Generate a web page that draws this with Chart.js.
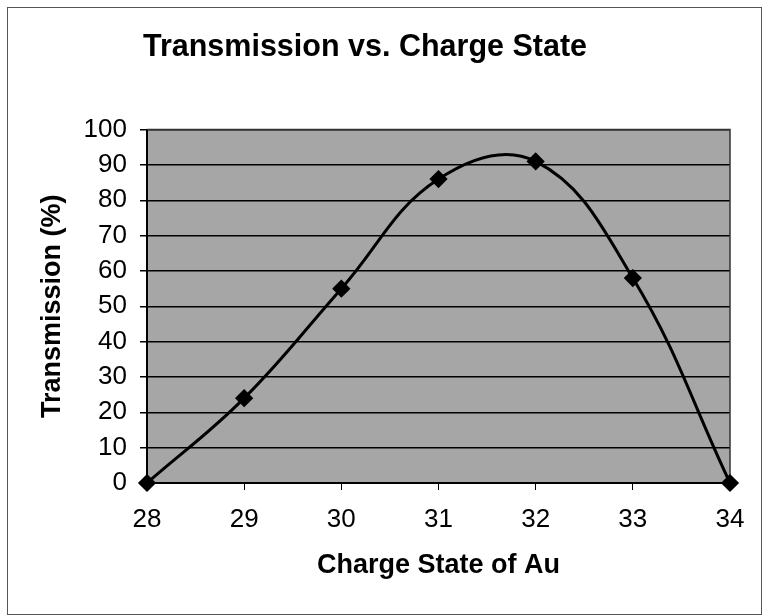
<!DOCTYPE html>
<html>
<head>
<meta charset="utf-8">
<style>
  html, body { margin: 0; padding: 0; background: #ffffff; }
  #wrap { width: 768px; height: 616px; }
</style>
<script src="https://cdn.jsdelivr.net/npm/chart.js@4/dist/chart.umd.min.js"></script>
</head>
<body>
<div id="wrap"><canvas id="chart" width="768" height="616"></canvas></div>
<script>
// Charge states of the Au beam and measured transmission (%)
const chargeStates = [28, 29, 30, 31, 32, 33, 34];
const transmission = [0, 24, 55, 86, 91, 58, 0];
const yTicks = [0, 10, 20, 30, 40, 50, 60, 70, 80, 90, 100];

const FONT = '"Liberation Sans", Arial, Helvetica, sans-serif';

// Page frame, grey plot background and plot outline
const framePlugin = {
  id: 'frame',
  beforeDraw(chart) {
    const { ctx, chartArea: a } = chart;
    ctx.save();
    ctx.fillStyle = '#ffffff';
    ctx.fillRect(0, 0, chart.width, chart.height);
    ctx.strokeStyle = '#555555';
    ctx.lineWidth = 1;
    ctx.strokeRect(7.5, 7.5, 754, 607);
    ctx.fillStyle = '#a6a6a6';
    ctx.fillRect(a.left, a.top, a.right - a.left, a.bottom - a.top);
    ctx.restore();
  },
  beforeDatasetsDraw(chart) {
    const { ctx, chartArea: a } = chart;
    ctx.save();
    ctx.strokeStyle = '#333333';
    ctx.lineWidth = 1.5;
    ctx.beginPath();
    ctx.moveTo(a.left, a.top);
    ctx.lineTo(a.right, a.top);
    ctx.lineTo(a.right, a.bottom);
    ctx.stroke();
    ctx.restore();
  }
};

new Chart(document.getElementById('chart'), {
  type: 'line',
  plugins: [framePlugin],
  data: {
    datasets: [{
      data: chargeStates.map((c, i) => ({ x: c, y: transmission[i] })),
      borderColor: '#000000',
      borderWidth: 3,
      backgroundColor: '#000000',
      pointStyle: 'rectRot',
      pointRadius: 7,
      pointHoverRadius: 7,
      pointBackgroundColor: '#000000',
      pointBorderColor: '#000000',
      tension: 0.4,
      fill: false,
      clip: false
    }]
  },
  options: {
    responsive: false,
    animation: false,
    devicePixelRatio: 1,
    layout: { padding: { left: 0, right: 38, top: 0, bottom: 0 } },
    plugins: {
      legend: { display: false },
      tooltip: { enabled: false },
      title: {
        display: true,
        text: 'Transmission vs. Charge State',
        color: '#000000',
        font: { family: FONT, size: 30.5, weight: 'bold', lineHeight: 1.2 },
        padding: { top: 29, bottom: 64 }
      }
    },
    scales: {
      x: {
        type: 'linear',
        min: chargeStates[0],
        max: chargeStates[chargeStates.length - 1],
        afterBuildTicks(scale) {
          scale.ticks = chargeStates.map(v => ({ value: v }));
        },
        afterFit(scale) { scale.height = 133; },
        ticks: {
          color: '#000000',
          font: { family: FONT, size: 26, lineHeight: 1.2 },
          padding: 14,
          maxRotation: 0
        },
        grid: {
          drawOnChartArea: false,
          drawTicks: true,
          tickLength: 7,
          color: '#000000',
          lineWidth: 1
        },
        border: { display: true, color: '#000000', width: 2 },
        title: {
          display: true,
          text: 'Charge State of Au',
          color: '#000000',
          font: { family: FONT, size: 27, weight: 'bold', lineHeight: 1.2 },
          padding: { top: 0, bottom: 34 }
        }
      },
      y: {
        min: 0,
        max: 100,
        afterBuildTicks(scale) {
          scale.ticks = yTicks.map(v => ({ value: v }));
        },
        afterFit(scale) { scale.width = 147; },
        ticks: {
          color: '#000000',
          font: { family: FONT, size: 26, lineHeight: 1.2 },
          padding: 13
        },
        grid: {
          drawOnChartArea: true,
          drawTicks: true,
          tickLength: 7,
          color: '#000000',
          lineWidth: 1.5
        },
        border: { display: true, color: '#000000', width: 2 },
        title: {
          display: true,
          text: 'Transmission (%)',
          color: '#000000',
          font: { family: FONT, size: 27, weight: 'bold', lineHeight: 1.2 },
          padding: { top: 36, bottom: 0 }
        }
      }
    }
  }
});
</script>
</body>
</html>
